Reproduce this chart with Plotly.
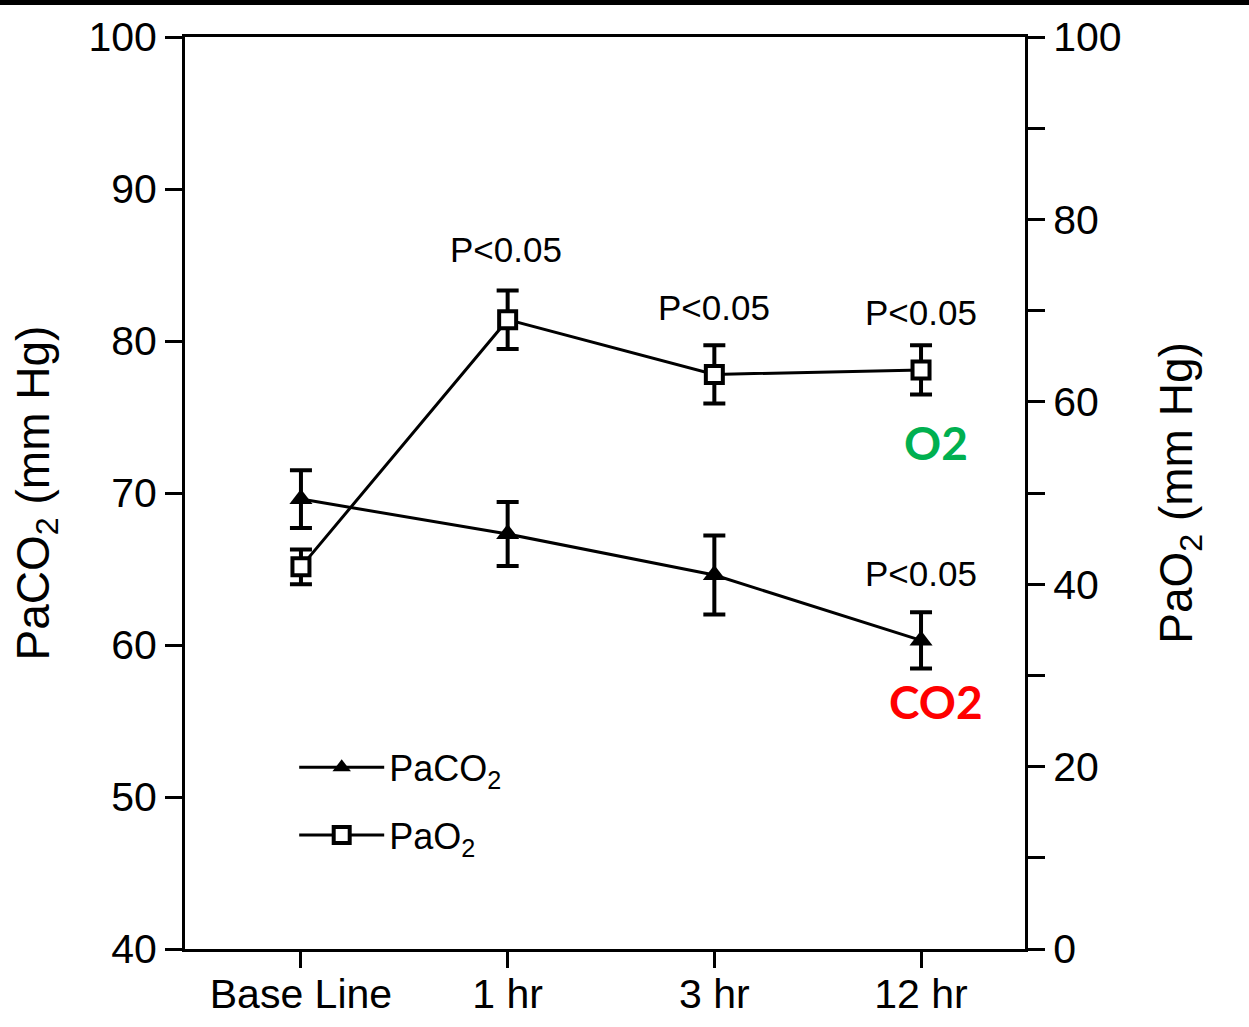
import plotly.graph_objects as go

categories = ["Base Line", "1 hr", "3 hr", "12 hr"]
x_pos = [0, 1, 2, 3]
paco2 = [69.6, 67.3, 64.6, 60.3]
paco2_err = [1.9, 2.1, 2.6, 1.85]
pao2 = [41.9, 69.0, 63.0, 63.5]
pao2_err = [1.9, 3.2, 3.2, 2.7]

p_labels = ["P<0.05", "P<0.05", "P<0.05", "P<0.05"]
p_x = [0.99, 2.0, 3.0, 3.0]
p_y = [86.0, 82.2, 81.9, 64.7]

FONT = "Liberation Sans, Arial, sans-serif"

fig = go.Figure()
fig.add_trace(go.Scatter(
    x=x_pos, y=paco2, name="PaCO<sub>2</sub>", mode="lines+markers",
    legendgroup="a",
    line=dict(color="black", width=3),
    marker=dict(symbol="triangle-up", size=20, color="black"),
    error_y=dict(type="data", array=paco2_err, color="black", thickness=4, width=11),
    yaxis="y"))
fig.add_trace(go.Scatter(
    x=x_pos, y=pao2, name="PaO<sub>2</sub>", mode="lines+markers",
    legendgroup="b",
    line=dict(color="black", width=3),
    marker=dict(symbol="square", size=17, color="white", line=dict(color="black", width=4)),
    error_y=dict(type="data", array=pao2_err, color="black", thickness=4, width=11),
    yaxis="y2"))

annotations = []
for t, xx, yy in zip(p_labels, p_x, p_y):
    annotations.append(dict(x=xx, y=yy, xref="x", yref="y", text=t, showarrow=False,
                            font=dict(family=FONT, size=35, color="black")))
annotations.append(dict(x=3.07, y=73.3, xref="x", yref="y", text="<b>O2</b>", showarrow=False,
                        font=dict(family="Lato, sans-serif", size=46, color="#00B050")))
annotations.append(dict(x=3.07, y=56.3, xref="x", yref="y", text="<b>CO2</b>", showarrow=False,
                        font=dict(family="Lato, sans-serif", size=46, color="#FF0000")))

fig.update_layout(
    width=1249, height=1027,
    margin=dict(l=185, r=224, t=37, b=78),
    plot_bgcolor="white", paper_bgcolor="white",
    font=dict(family=FONT, color="black"),
    showlegend=True,
    legend=dict(x=0.13, y=0.232, xanchor="left", yanchor="top", bgcolor="rgba(0,0,0,0)",
                font=dict(family=FONT, size=36), itemwidth=85,
                traceorder="grouped", tracegroupgap=18),
    xaxis=dict(range=[-0.561, 3.503], tickvals=x_pos, ticktext=categories,
               showline=True, linecolor="black", linewidth=3, mirror=True,
               ticks="outside", ticklen=16, tickwidth=3, tickcolor="black",
               ticklabelstandoff=-9,
               tickfont=dict(size=41), showgrid=False, zeroline=False, automargin=False),
    yaxis=dict(range=[40, 100], tickvals=[40, 50, 60, 70, 80, 90, 100],
               showline=True, linecolor="black", linewidth=3,
               ticks="outside", ticklen=17, tickwidth=3, tickcolor="black",
               tickfont=dict(size=41), showgrid=False, zeroline=False, automargin=False,
               title=dict(text="PaCO<sub>2</sub> (mm Hg)", font=dict(size=46), standoff=25)),
    yaxis2=dict(range=[0, 100], overlaying="y", side="right",
                tick0=0, dtick=20,
                minor=dict(dtick=10, ticks="outside", ticklen=17, tickwidth=3,
                           tickcolor="black", showgrid=False),
                showline=True, linecolor="black", linewidth=3,
                ticks="outside", ticklen=17, tickwidth=3, tickcolor="black",
                tickfont=dict(size=41), showgrid=False, zeroline=False, automargin=False,
                title=dict(text="PaO<sub>2</sub> (mm Hg)", font=dict(size=46), standoff=40)),
    annotations=annotations,
    shapes=[dict(type="rect", xref="paper", yref="paper", xsizemode="pixel", ysizemode="pixel",
                 xanchor=0, yanchor=1, x0=-185, x1=1064, y0=32, y1=37,
                 fillcolor="black", line=dict(width=0))],
)

fig.write_html("out.html")
